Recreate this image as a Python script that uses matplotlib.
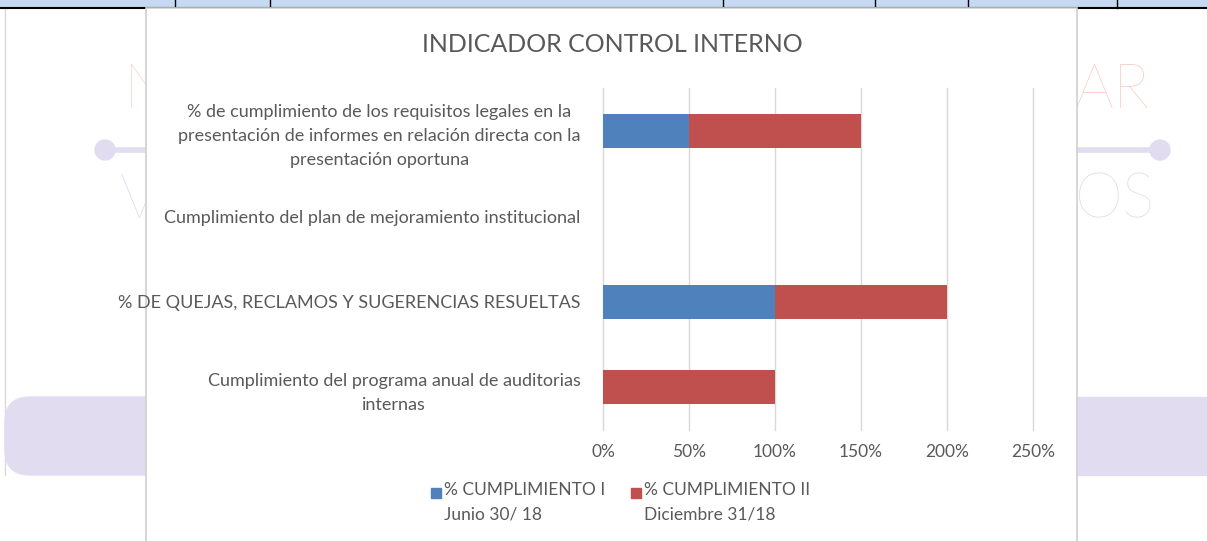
import matplotlib.pyplot as plt
from matplotlib.patches import Rectangle, FancyBboxPatch, Circle

plt.rcParams['font.family'] = ['Lato', 'DejaVu Sans']

categories = [
    '% de cumplimiento de los requisitos legales en la\npresentación de informes en relación directa con la\npresentación oportuna',
    'Cumplimiento del plan de mejoramiento institucional',
    '% DE QUEJAS, RECLAMOS Y SUGERENCIAS RESUELTAS',
    'Cumplimiento del programa anual de auditorias\ninternas',
]
cumplimiento_1 = [0.5, 0.0, 1.0, 0.0]
cumplimiento_2 = [1.0, 0.0, 1.0, 1.0]
series_labels = ['% CUMPLIMIENTO I\nJunio 30/ 18', '% CUMPLIMIENTO II\nDiciembre 31/18']
series_colors = ['#4f81bd', '#c0504d']
x_ticks = [0, 0.5, 1.0, 1.5, 2.0, 2.5]
x_tick_labels = ['0%', '50%', '100%', '150%', '200%', '250%']

W, H = 1207, 541
fig = plt.figure(figsize=(W / 100, H / 100), dpi=100)

# page behind the chart (document background, pixel coords)
bg = fig.add_axes([0, 0, 1, 1])
bg.set_xlim(0, W)
bg.set_ylim(H, 0)
bg.axis('off')
bg.add_patch(Rectangle((0, 0), W, 7, color='#c6d9f1', zorder=1))
bg.plot([0, W], [7.5, 7.5], color='black', lw=1.5, zorder=2)
for xv in [175, 270, 723, 875, 968, 1117]:
    bg.plot([xv, xv], [0, 7.5], color='black', lw=1, zorder=2)
bg.plot([5, 5], [8, 475], color='#d9d9d9', lw=1, zorder=1)
bg.add_patch(FancyBboxPatch((12, 404), 500, 64, boxstyle='round,pad=7,rounding_size=25',
                            color='#e2dcf0', zorder=1))
bg.add_patch(Rectangle((400, 397), W - 400, 78, color='#e2dcf0', zorder=1))
bg.plot([105, 1160], [150, 150], color='#e2dcf0', lw=4, zorder=1)
bg.add_patch(Circle((105, 150), 10, color='#e2dcf0', zorder=1))
bg.add_patch(Circle((1160, 150), 10, color='#e2dcf0', zorder=1))
bg.text(124, 108, 'N', fontsize=44, color='#f6c9c0', fontweight='light', zorder=1)
bg.text(1075, 108, 'AR', fontsize=44, color='#f6c9c0', fontweight='light', zorder=1)
bg.text(120, 218, 'V', fontsize=44, color='#dcd6ec', fontweight='light', zorder=1)
bg.text(1075, 218, 'OS', fontsize=44, color='#dcd6ec', fontweight='light', zorder=1)

# chart frame
bg.add_patch(Rectangle((146, 8), 931, 540, facecolor='white', edgecolor='#d0d0d0',
                       lw=1.2, zorder=3))
fig.text(612 / W, 1 - 45 / H, 'INDICADOR CONTROL INTERNO', ha='center', va='center',
         fontsize=18, color='#595959')

ax = fig.add_axes([603 / W, 1 - 430 / H, (1033 - 603) / W, (430 - 88) / H])
ax.set_facecolor('none')
y = list(range(len(categories)))
b1 = ax.barh(y, cumplimiento_1, height=0.4, color=series_colors[0], zorder=3)
b2 = ax.barh(y, cumplimiento_2, height=0.4, left=cumplimiento_1, color=series_colors[1],
             zorder=3)
ax.set_ylim(len(categories) - 0.5, -0.5)
ax.set_xlim(0, 2.5)
ax.set_xticks(x_ticks)
ax.set_xticklabels(x_tick_labels)
ax.set_yticks(y)
ax.set_yticklabels(categories, multialignment='center', linespacing=1.6)
ax.grid(axis='x', color='#d9d9d9', lw=1, zorder=0)
for gl in ax.get_xgridlines():
    gl.set_clip_on(False)
for s in ax.spines.values():
    s.set_visible(False)
ax.tick_params(axis='x', length=0, pad=10, labelsize=12.5, labelcolor='#595959')
ax.tick_params(axis='y', length=0, pad=16, labelsize=13, labelcolor='#595959')

# legend, square lined up with the first text line like Excel does
for i, (lab, col) in enumerate(zip(series_labels, series_colors)):
    x0 = 431 + i * 200
    bg.add_patch(Rectangle((x0, 488), 10, 10, color=col, zorder=4))
    bg.text(x0 + 13, 482, lab, ha='left', va='top', fontsize=12.5, color='#595959',
            linespacing=1.65, zorder=4)

fig.savefig('out.png', dpi=100)
